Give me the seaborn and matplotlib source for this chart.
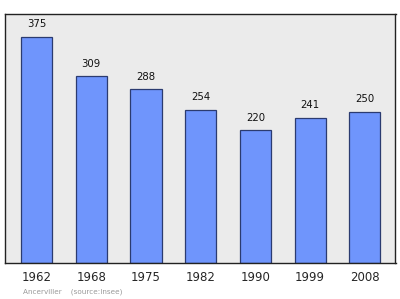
import matplotlib
matplotlib.use("Agg")
import matplotlib.pyplot as plt
import seaborn as sns
import pandas as pd

years = ["1962", "1968", "1975", "1982", "1990", "1999", "2008"]
population = [375, 309, 288, 254, 220, 241, 250]

sns.set_style("white")
plt.rcParams['font.family'] = ['DejaVu Sans']

df = pd.DataFrame({"year": years, "pop": population})

fig = plt.figure(figsize=(4.0, 2.99), dpi=100)
ax = fig.add_axes([5/400, 1 - 263/299, 390.5/400, 249/299])
ax.set_facecolor("#ebebeb")

sns.barplot(data=df, x="year", y="pop", ax=ax, color="#6f95fc",
            width=0.57, edgecolor="#2b3b70", linewidth=0.9, saturation=1)

ax.set_xlim(-0.576, 6.56)
ax.set_ylim(0, 412.5)
ax.set_yticks([])
ax.set_xlabel("")
ax.set_ylabel("")
ax.tick_params(axis="x", length=0, labelsize=8.5, pad=6)
for s in ax.spines.values():
    s.set_color("#222222")
    s.set_linewidth(1.0)

for i, v in enumerate(population):
    ax.annotate(str(v), (i, v), xytext=(0, 5.5), textcoords="offset points",
                ha="center", va="bottom", fontsize=7.3, color="#111111")

fig.text(23/400, 1 - 292/299, "Ancerviller    (source:Insee)", fontsize=5.2,
         color="#999999", va="center", ha="left")

fig.savefig("out.png", dpi=100, facecolor="white")
